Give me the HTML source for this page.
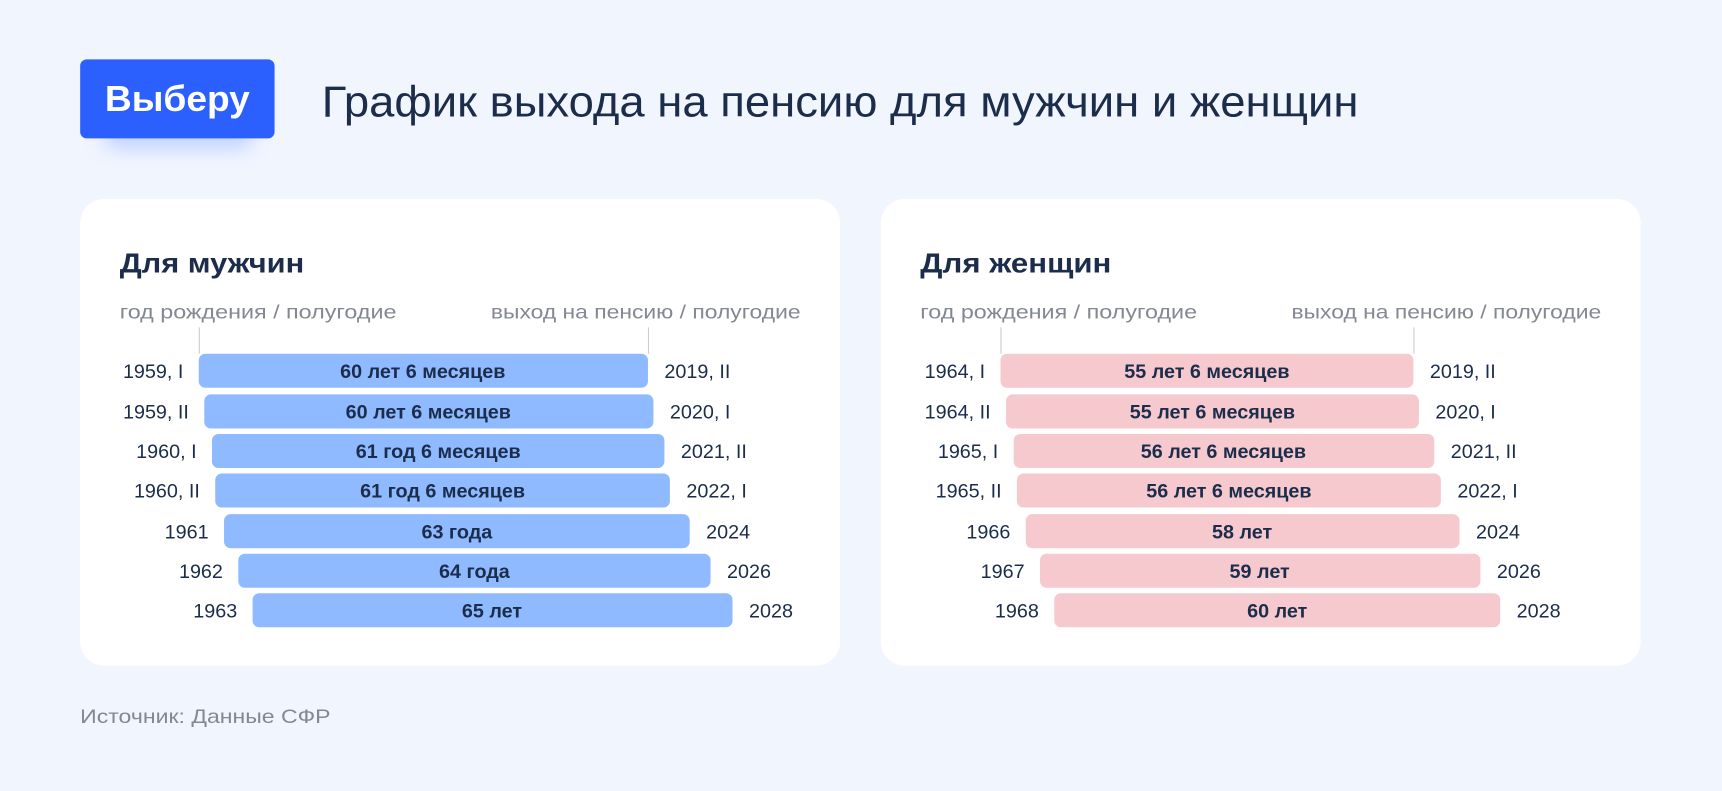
<!DOCTYPE html>
<html><head><meta charset="utf-8"><style>
html,body{margin:0;padding:0;background:#f1f5fe;width:1722px;height:791px;overflow:hidden}
svg{display:block}
text{font-family:"Liberation Sans",sans-serif}
</style></head><body>
<svg width="1722" height="791" viewBox="0 0 1568 720" preserveAspectRatio="none" xmlns="http://www.w3.org/2000/svg">
<defs>
<filter id="sh" x="-30%" y="-30%" width="160%" height="180%"><feGaussianBlur stdDeviation="9"/></filter>
</defs>
<rect width="1568" height="720" fill="#f1f5fe"/>
<rect x="95" y="95" width="135" height="40" rx="10" fill="#9fb9ff" opacity="0.6" filter="url(#sh)"/>
<rect x="73" y="54" width="177" height="72" rx="6" fill="#2b60fe"/>
<text x="161.5" y="101" text-anchor="middle" font-size="33" font-weight="bold" fill="#fff" textLength="132" lengthAdjust="spacingAndGlyphs">Выберу</text>
<text x="293" y="106" font-size="40" fill="#1b2d4b" textLength="944" lengthAdjust="spacingAndGlyphs">График выхода на пенсию для мужчин и женщин</text>

<rect x="73" y="181" width="692" height="425" rx="22" fill="#fff"/>
<rect x="802" y="181" width="692" height="425" rx="22" fill="#fff"/>

<g font-size="18" fill="#838893">
<text x="109" y="290" textLength="252" lengthAdjust="spacingAndGlyphs">год рождения / полугодие</text>
<text x="729" y="290" text-anchor="end" textLength="282" lengthAdjust="spacingAndGlyphs">выход на пенсию / полугодие</text>
<text x="838" y="290" textLength="252" lengthAdjust="spacingAndGlyphs">год рождения / полугодие</text>
<text x="1458" y="290" text-anchor="end" textLength="282" lengthAdjust="spacingAndGlyphs">выход на пенсию / полугодие</text>
<text x="73" y="658" textLength="228" lengthAdjust="spacingAndGlyphs">Источник: Данные СФР</text>
</g>
<g font-size="25" font-weight="bold" fill="#1b2d4b">
<text x="109" y="248" textLength="168" lengthAdjust="spacingAndGlyphs">Для мужчин</text>
<text x="838" y="248" textLength="174" lengthAdjust="spacingAndGlyphs">Для женщин</text>
</g>
<g stroke="#c9ccd3" stroke-width="1">
<line x1="181.5" y1="298" x2="181.5" y2="322"/><line x1="590.5" y1="298" x2="590.5" y2="322"/>
<line x1="911.5" y1="298" x2="911.5" y2="322"/><line x1="1287.5" y1="298" x2="1287.5" y2="322"/>
</g>

<g fill="#8fbaff">
<rect x="181" y="322" width="409" height="31" rx="6"/>
<rect x="186" y="359" width="409" height="31" rx="6"/>
<rect x="193" y="395" width="412" height="31" rx="6"/>
<rect x="196" y="431" width="414" height="31" rx="6"/>
<rect x="204" y="468" width="424" height="31" rx="6"/>
<rect x="217" y="504" width="430" height="31" rx="6"/>
<rect x="230" y="540" width="437" height="31" rx="6"/>
</g>
<g fill="#f5c9ce">
<rect x="911" y="322" width="376" height="31" rx="6"/>
<rect x="916" y="359" width="376" height="31" rx="6"/>
<rect x="923" y="395" width="383" height="31" rx="6"/>
<rect x="926" y="431" width="386" height="31" rx="6"/>
<rect x="934" y="468" width="395" height="31" rx="6"/>
<rect x="947" y="504" width="401" height="31" rx="6"/>
<rect x="960" y="540" width="406" height="31" rx="6"/>
</g>

<g font-size="18" font-weight="bold" fill="#1b2d4b" text-anchor="middle">
<text x="385" y="344">60 лет 6 месяцев</text>
<text x="390" y="381">60 лет 6 месяцев</text>
<text x="399" y="417">61 год 6 месяцев</text>
<text x="403" y="453">61 год 6 месяцев</text>
<text x="416" y="490">63 года</text>
<text x="432" y="526">64 года</text>
<text x="448" y="562">65 лет</text>
<text x="1099" y="344">55 лет 6 месяцев</text>
<text x="1104" y="381">55 лет 6 месяцев</text>
<text x="1114" y="417">56 лет 6 месяцев</text>
<text x="1119" y="453">56 лет 6 месяцев</text>
<text x="1131" y="490">58 лет</text>
<text x="1147" y="526">59 лет</text>
<text x="1163" y="562">60 лет</text>
</g>

<g font-size="18" fill="#1b2d4b" text-anchor="end">
<text x="167" y="344">1959, I</text>
<text x="172" y="381">1959, II</text>
<text x="179" y="417">1960, I</text>
<text x="182" y="453">1960, II</text>
<text x="190" y="490">1961</text>
<text x="203" y="526">1962</text>
<text x="216" y="562">1963</text>
<text x="897" y="344">1964, I</text>
<text x="902" y="381">1964, II</text>
<text x="909" y="417">1965, I</text>
<text x="912" y="453">1965, II</text>
<text x="920" y="490">1966</text>
<text x="933" y="526">1967</text>
<text x="946" y="562">1968</text>
</g>
<g font-size="18" fill="#1b2d4b">
<text x="605" y="344">2019, II</text>
<text x="610" y="381">2020, I</text>
<text x="620" y="417">2021, II</text>
<text x="625" y="453">2022, I</text>
<text x="643" y="490">2024</text>
<text x="662" y="526">2026</text>
<text x="682" y="562">2028</text>
<text x="1302" y="344">2019, II</text>
<text x="1307" y="381">2020, I</text>
<text x="1321" y="417">2021, II</text>
<text x="1327" y="453">2022, I</text>
<text x="1344" y="490">2024</text>
<text x="1363" y="526">2026</text>
<text x="1381" y="562">2028</text>
</g>
</svg>
</body></html>
